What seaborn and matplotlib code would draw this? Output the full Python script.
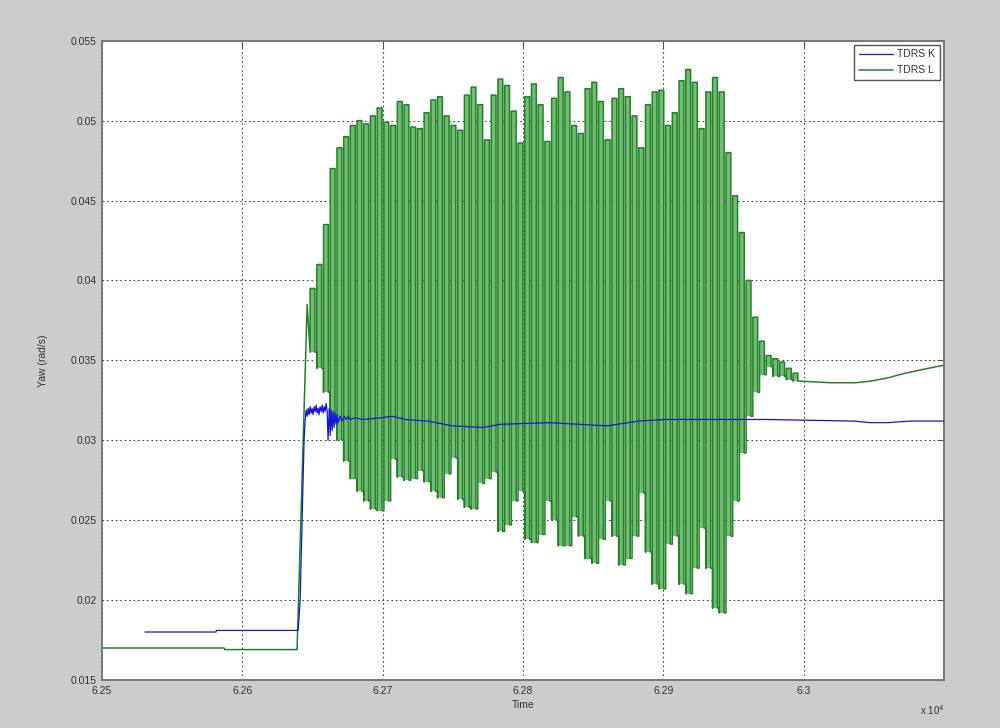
import numpy as np
import pandas as pd
import matplotlib
matplotlib.use("Agg")
import matplotlib.pyplot as plt
import seaborn as sns

# ---------------- data ----------------
series_names = ["TDRS K", "TDRS L"]

# TDRS K (blue): time [s], yaw rate [rad/s]
blue_t = [62530.7, 62581.3, 62581.5, 62639.8, 62641.2, 62644.0,
          62644.7, 62645.5, 62646.2, 62646.9, 62647.6, 62648.3, 62649.0, 62649.7,
          62650.4, 62651.2, 62651.9, 62652.6, 62653.3, 62654.0, 62654.7, 62655.4,
          62656.2, 62656.9, 62657.6, 62658.3, 62659.0, 62659.7, 62660.4,
          62661.1, 62661.9, 62662.6, 62663.3, 62664.0, 62664.7, 62665.4, 62666.1,
          62666.8, 62667.6, 62668.3, 62669.7, 62671.1, 62672.6, 62674.0, 62675.4,
          62676.8, 62680.4, 62685.4, 62698.2, 62706.8, 62716.0, 62732.4, 62749.6,
          62771.7, 62783.8, 62819.4, 62860.1, 62882.2, 62901.4, 62929.9, 62972.7,
          63035.5, 63047.6, 63059.7, 63076.1, 63100.0]
blue_v = [0.0180, 0.0180, 0.0181, 0.0181, 0.0200, 0.0300,
          0.0312, 0.0319, 0.0315, 0.0320, 0.0316, 0.0321, 0.0317, 0.0320,
          0.0316, 0.0321, 0.0318, 0.0322, 0.0317, 0.0320, 0.0316, 0.0321,
          0.0318, 0.0322, 0.0317, 0.0321, 0.0318, 0.0323, 0.0319,
          0.0300, 0.0320, 0.0303, 0.0319, 0.0306, 0.0318, 0.0308, 0.0317,
          0.0310, 0.0316, 0.0311, 0.0315, 0.0312, 0.0315, 0.0313, 0.0315,
          0.0313, 0.0314, 0.0313, 0.0314, 0.0315, 0.0313, 0.0312, 0.0309,
          0.0308, 0.0310, 0.0311, 0.0309, 0.0312, 0.0313, 0.0313, 0.0313,
          0.0312, 0.0311, 0.0311, 0.0312, 0.0312]

# TDRS L (green): level before the manoeuvre and the initial rise
green_pre_t = [62500.0, 62587.0, 62587.5, 62639.0, 62646.2]
green_pre_v = [0.0170, 0.0170, 0.0169, 0.0169, 0.0385]

# TDRS L oscillation: one peak and one trough per cycle
osc_start = 62648.3      # time of first cycle [s]
osc_period = 4.78        # cycle length [s]
osc_peaks = [0.0395, 0.0410, 0.0435, 0.0470, 0.0483, 0.0490, 0.0497, 0.0500,
             0.0498, 0.0503, 0.0508, 0.0499, 0.0497, 0.0512, 0.0510, 0.0496,
             0.0495, 0.0505, 0.0513, 0.0515, 0.0503, 0.0497, 0.0494, 0.0516,
             0.0521, 0.0510, 0.0488, 0.0516, 0.0526, 0.0522, 0.0506, 0.0486,
             0.0515, 0.0523, 0.0510, 0.0487, 0.0514, 0.0527, 0.0518, 0.0497,
             0.0492, 0.0520, 0.0524, 0.0512, 0.0488, 0.0514, 0.0520, 0.0515,
             0.0503, 0.0483, 0.0510, 0.0518, 0.0519, 0.0497, 0.0505, 0.0525,
             0.0532, 0.0524, 0.0495, 0.0518, 0.0527, 0.0518, 0.0480, 0.0453,
             0.0430, 0.0400, 0.0377, 0.0362, 0.0353, 0.0351, 0.0349, 0.0345,
             0.0342]
osc_troughs = [0.0355, 0.0345, 0.0330, 0.0315, 0.0300, 0.0287, 0.0276, 0.0268,
               0.0262, 0.0257, 0.0256, 0.0262, 0.0288, 0.0277, 0.0275, 0.0276,
               0.0281, 0.0274, 0.0268, 0.0264, 0.0279, 0.0289, 0.0263, 0.0258,
               0.0257, 0.0273, 0.0276, 0.0280, 0.0243, 0.0247, 0.0262, 0.0268,
               0.0238, 0.0236, 0.0241, 0.0262, 0.0250, 0.0234, 0.0234, 0.0252,
               0.0240, 0.0226, 0.0223, 0.0238, 0.0262, 0.0240, 0.0222, 0.0226,
               0.0240, 0.0267, 0.0230, 0.0210, 0.0207, 0.0235, 0.0240, 0.0210,
               0.0204, 0.0220, 0.0245, 0.0220, 0.0195, 0.0192, 0.0240, 0.0262,
               0.0292, 0.0315, 0.0330, 0.0341, 0.0346, 0.0340, 0.0340, 0.0338,
               0.0337]

# TDRS L after the oscillation has died out
green_tail_t = [62997.7, 63019.1, 63036.9, 63047.6, 63059.7, 63072.5, 63083.2, 63100.0]
green_tail_v = [0.0337, 0.0336, 0.0336, 0.0337, 0.0339, 0.0342, 0.0344, 0.0347]

x_ticks = [62500, 62600, 62700, 62800, 62900, 63000]
x_tick_labels = ["6.25", "6.26", "6.27", "6.28", "6.29", "6.3"]
y_ticks = [0.015, 0.02, 0.025, 0.03, 0.035, 0.04, 0.045, 0.05, 0.055]
y_tick_labels = ["0.015", "0.02", "0.025", "0.03", "0.035", "0.04", "0.045", "0.05", "0.055"]

# ---------------- build tables ----------------
HOLD = 0.72   # fraction of each cycle spent in the dense (filled) part
g_t, g_v = list(green_pre_t), list(green_pre_v)
band_t, band_lo, band_hi = [], [], []
for i, (pk, tr) in enumerate(zip(osc_peaks, osc_troughs)):
    t0 = osc_start + i * osc_period
    t1 = t0 + HOLD * osc_period
    t2 = t0 + osc_period
    g_t += [t0, t0, t1, t1, t2]
    g_v += [tr, pk, pk, tr, tr]
    band_t += [t0, t1, t1, t2]
    band_lo += [tr, tr, tr, tr]
    band_hi += [pk, pk, tr, tr]
g_t += green_tail_t
g_v += green_tail_v

df_blue = pd.DataFrame({"t": blue_t, "v": blue_v})
df_green = pd.DataFrame({"t": g_t, "v": g_v})
df_band = pd.DataFrame({"t": band_t, "lo": band_lo, "hi": band_hi})

# ---------------- plot ----------------
sns.set_style("white")
plt.rcParams["font.family"] = ["Liberation Sans", "DejaVu Sans"]

fig = plt.figure(figsize=(10, 7.28), dpi=100, facecolor="#cccccc")
ax = fig.add_axes([0.102, 0.066, 0.842, 0.878])
ax.set_facecolor("white")

ax.fill_between(df_band["t"], df_band["lo"], df_band["hi"], color="#72bd72",
                lw=0, zorder=1.5)
sns.lineplot(data=df_blue, x="t", y="v", ax=ax, color="#1515d8", lw=0.9,
             sort=False, estimator=None, label=series_names[0], zorder=3)
sns.lineplot(data=df_green, x="t", y="v", ax=ax, color="#23812b", lw=1.1,
             sort=False, estimator=None, label=series_names[1], zorder=2)

ax.set_xlim(62500, 63100)
ax.set_ylim(0.015, 0.055)
ax.set_xticks(x_ticks)
ax.set_xticklabels(x_tick_labels)
ax.set_yticks(y_ticks)
ax.set_yticklabels(y_tick_labels)

ax.grid(True, linestyle=(0, (1.5, 2.5)), color="#444444", lw=0.8)
ax.tick_params(direction="in", top=True, right=True, length=5, width=0.8,
               labelsize=7.5, colors="#555555", labelcolor="#333333", pad=4)
for s in ax.spines.values():
    s.set_color("#777777")
    s.set_linewidth(1.4)

ax.set_xlabel("Time", fontsize=7.5, color="#333333", labelpad=3)
ax.set_ylabel("Yaw (rad/s)", fontsize=7.5, color="#333333", labelpad=16)
fig.text(0.92, 0.018, r"x 10$^4$", fontsize=7, color="#333333")

leg = ax.legend(loc="upper right", fontsize=7.5, frameon=True, fancybox=False,
                edgecolor="#555555", framealpha=1, handlelength=3.3,
                borderpad=0.45, labelspacing=0.55, handletextpad=0.4,
                borderaxespad=0, bbox_to_anchor=(1 - 4 / 842, 1 - 4 / 639))
leg.get_frame().set_linewidth(1.0)
for txt in leg.get_texts():
    txt.set_color("#333333")

fig.savefig("out.png", dpi=100, facecolor=fig.get_facecolor())
